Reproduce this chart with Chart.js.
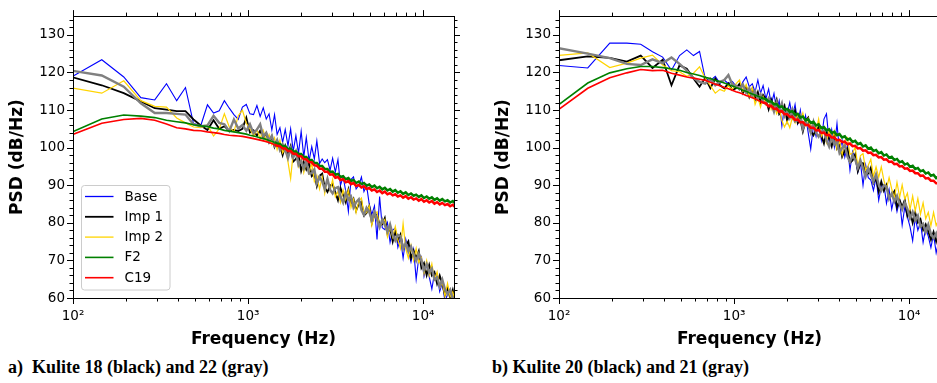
<!DOCTYPE html>
<html lang="en">
<head>
  <meta charset="UTF-8" />
  <title>PSD spectra, Kulite sensors</title>
  <script src="https://cdn.jsdelivr.net/npm/chart.js"></script>
  <style>
    body {
      margin: 0;
      width: 937px;
      height: 383px;
      overflow: hidden;
      background: #fff;
      position: relative;
    }
    .panel {
      position: absolute;
      top: 0;
    }
    .caption {
      position: absolute;
      top: 357px;
      font-family: "Liberation Serif", serif;
      font-weight: bold;
      font-size: 18px;
      line-height: 20px;
      white-space: pre;
      color: #000;
    }
  </style>
</head>
<body>
  <div class="panel" style="left:0px"><canvas id="chartA" width="470" height="352"></canvas></div>
  <div class="panel" style="left:486px"><canvas id="chartB" width="470" height="352"></canvas></div>
  <div class="caption" style="left:8px">a)  Kulite 18 (black) and 22 (gray)</div>
  <div class="caption" style="left:492px">b) Kulite 20 (black) and 21 (gray)</div>

  <script>
    // frequency bins (Hz), shared by every series
    const freq = [
      98, 146, 195, 244, 293, 342, 391, 439, 488, 537,
      586, 635, 684, 732, 781, 830, 879, 928, 977, 1025,
      1074, 1123, 1172, 1221, 1270, 1318, 1367, 1416, 1465,
      1520, 1575, 1630, 1690, 1750, 1810, 1875, 1940, 2010, 2080,
      2150, 2230, 2310, 2390, 2470, 2560, 2650, 2740, 2840, 2940,
      3040, 3150, 3260, 3370, 3490, 3610, 3740, 3870, 4000, 4140,
      4290, 4440, 4590, 4750, 4920, 5090, 5270, 5450, 5640, 5840,
      6040, 6250, 6470, 6700, 6930, 7170, 7420, 7680, 7950, 8230,
      8520, 8820, 9120, 9440, 9770, 10110, 10470, 10830, 11210, 11600,
      12010, 12430, 12860, 13310, 13780, 14260, 14760, 15280
    ];

    const decadeTicks = [100, 1000, 10000];
    const decadeLabels = ['10²', '10³', '10⁴'];
    const legendLabels = ['Base', 'Imp 1', 'Imp 2', 'F2', 'C19'];

    // ---- panel a: Kulite 18 (and 22 in gray) ----
    const baseA = [
      118.8, 123.4, 118.8, 113.3, 112.7, 117.0, 112.5, 116.0, 106.4, 105.9,
      111.4, 109.2, 109.8, 112.5, 110.5, 108.8, 107.5, 110.8, 111.5, 109.0,
      108.8, 111.2, 108.3, 110.6, 107.6, 109.0, 104.7, 108.8, 103.5,
      105.3, 101.4, 104.8, 100.5, 105.0, 99.0, 103.2, 98.5, 104.4, 97.5,
      102.7, 96.5, 100.3, 97.0, 101.8, 95.8, 97.0, 96.0, 96.8, 94.0,
      97.2, 93.5, 96.8, 90.0, 92.2, 88.5, 83.0, 91.5, 92.2, 89.0,
      90.0, 92.2, 88.3, 90.0, 85.0, 82.2, 84.5, 75.6, 87.0, 78.7,
      78.2, 80.1, 74.8, 78.1, 78.6, 73.5, 75.9, 70.6, 75.7, 72.7,
      69.6, 72.9, 65.0, 70.7, 71.1, 65.8, 69.0, 65.6, 62.4, 66.6,
      66.1, 61.7, 64.0, 59.2, 60.9, 61.9, 58.0, 57.9
    ];
    const imp1A = [
      118.8, 116.6, 114.5, 112.3, 110.5, 110.1, 109.7, 109.7, 107.5, 105.9,
      104.7, 107.3, 105.0, 105.7, 104.4, 104.7, 104.4, 105.0, 108.0, 104.0,
      104.6, 103.2, 104.5, 102.6, 103.8, 101.4, 102.9, 100.2, 101.8,
      100.7, 98.0, 100.5, 98.4, 100.4, 96.3, 97.0, 98.2, 93.8, 96.2,
      94.2, 96.0, 92.4, 93.1, 89.8, 92.5, 93.1, 89.4, 88.2, 89.9,
      90.3, 88.1, 86.0, 89.3, 87.4, 85.5, 88.8, 85.2, 86.4, 83.2,
      85.0, 85.6, 81.9, 82.6, 84.4, 79.9, 82.2, 82.2, 79.4, 79.6,
      81.3, 77.2, 78.6, 75.0, 77.7, 75.3, 76.9, 73.4, 74.0, 75.1,
      70.6, 72.6, 70.6, 72.5, 68.0, 69.3, 66.1, 68.8, 66.0, 66.9,
      63.8, 66.0, 63.8, 60.8, 62.7, 60.0, 62.2, 58.9
    ];
    const imp2A = [
      115.9, 114.5, 117.8, 112.5, 111.0, 110.8, 107.9, 106.6, 105.5, 105.3,
      106.0, 103.1, 105.0, 109.0, 105.5, 104.2, 108.5, 110.0, 106.5, 105.0,
      103.0, 104.8, 102.5, 104.6, 101.8, 103.5, 100.8, 102.6, 99.5,
      102.0, 98.6, 99.9, 96.2, 91.8, 98.7, 99.3, 95.0, 97.2, 93.4,
      96.3, 93.2, 95.9, 91.0, 92.6, 89.0, 92.2, 87.8, 91.7, 88.6,
      91.5, 86.9, 88.3, 85.4, 88.8, 86.2, 88.7, 84.1, 86.3, 82.7,
      85.8, 86.6, 82.3, 82.7, 84.5, 79.3, 82.4, 82.9, 78.7, 80.0,
      80.9, 76.3, 79.0, 76.2, 79.0, 75.5, 73.2, 79.8, 73.1, 70.6,
      74.0, 70.0, 73.2, 69.4, 70.8, 66.4, 69.9, 66.0, 69.1, 64.9,
      67.0, 62.7, 64.2, 60.5, 63.9, 60.3, 61.6, 59.0
    ];
    const f2A = [
      104.1, 107.6, 108.7, 108.4, 108.0, 107.3, 106.9, 106.6, 106.1, 105.8,
      105.6, 105.2, 105.0, 104.6, 104.4, 104.2, 104.0, 103.8, 103.6, 103.3,
      103.1, 102.9, 102.6, 102.4, 102.2, 101.9, 101.7, 101.4, 101.1,
      101.0, 100.3, 100.4, 99.6, 99.7, 99.0, 99.0, 98.3, 98.3, 97.5,
      97.5, 96.7, 96.7, 95.9, 95.9, 95.1, 95.1, 94.3, 94.3, 93.5,
      93.6, 92.8, 93.0, 92.2, 92.4, 91.6, 91.9, 91.1, 91.4, 90.6,
      91.0, 90.3, 90.6, 89.9, 90.2, 89.5, 89.9, 89.2, 89.6, 88.9,
      89.3, 88.6, 89.0, 88.3, 88.7, 88.0, 88.4, 87.7, 88.1, 87.4,
      87.8, 87.2, 87.5, 86.9, 87.3, 86.6, 87.0, 86.4, 86.8, 86.1,
      86.5, 85.9, 86.3, 85.7, 86.0, 85.4, 85.8, 85.1
    ];
    const c19A = [
      103.4, 106.5, 107.5, 107.8, 107.3, 106.3, 105.3, 105.0, 104.6, 104.5,
      104.2, 104.0, 103.8, 103.5, 103.3, 103.2, 103.1, 103.0, 102.8, 102.6,
      102.4, 102.2, 102.0, 101.8, 101.6, 101.4, 101.1, 100.8, 100.5,
      100.4, 99.8, 99.8, 99.1, 99.1, 98.4, 98.4, 97.7, 97.7, 96.9,
      96.9, 96.1, 96.1, 95.3, 95.2, 94.4, 94.4, 93.6, 93.6, 92.8,
      92.9, 92.0, 92.2, 91.4, 91.6, 90.8, 91.1, 90.3, 90.6, 89.8,
      90.1, 89.4, 89.7, 89.0, 89.3, 88.6, 88.9, 88.2, 88.6, 87.9,
      88.3, 87.6, 87.9, 87.3, 87.6, 87.0, 87.3, 86.7, 87.1, 86.4,
      86.8, 86.2, 86.5, 85.9, 86.3, 85.6, 86.0, 85.4, 85.8, 85.1,
      85.5, 84.9, 85.3, 84.7, 85.0, 84.4, 84.8, 84.1
    ];
    const k22A = [
      120.5, 119.2, 116.2, 111.8, 109.2, 109.2, 109.0, 108.8, 106.2, 105.7,
      105.9, 108.5, 106.6, 106.2, 104.4, 107.5, 105.1, 106.0, 104.5, 106.2,
      103.8, 104.8, 106.2, 103.0, 104.0, 101.8, 103.2, 100.6, 102.0,
      99.4, 100.9, 99.5, 97.2, 99.7, 97.4, 99.0, 95.4, 96.5, 94.5,
      96.4, 93.1, 93.2, 94.2, 90.5, 92.2, 91.0, 89.0, 91.7, 88.8,
      87.8, 89.2, 89.5, 87.0, 85.4, 88.0, 86.2, 87.0, 84.1, 85.5,
      86.3, 83.4, 82.1, 84.0, 82.9, 80.8, 82.9, 80.8, 78.8, 80.9,
      79.4, 77.6, 79.6, 76.9, 75.3, 76.8, 76.5, 73.1, 74.5, 72.4,
      73.7, 71.5, 69.9, 71.8, 69.9, 67.4, 69.0, 66.8, 67.8, 64.9,
      65.4, 63.1, 64.9, 62.4, 61.0, 62.2, 59.7, 60.1
    ];

    // ---- panel b: Kulite 20 (and 21 in gray) ----
    const baseB = [
      121.9, 121.2, 127.8, 127.8, 127.5, 125.5, 124.1, 120.6, 124.5, 126.0,
      124.5, 125.6, 118.4, 117.8, 119.0, 117.1, 118.0, 117.0, 117.6, 116.4,
      115.5, 117.5, 118.8, 116.2, 117.0, 114.8, 118.0, 114.5, 116.5,
      113.0, 115.6, 111.5, 114.4, 110.0, 112.5, 105.8, 111.0, 109.0, 112.0,
      108.0, 111.5, 106.5, 110.0, 104.8, 108.5, 104.0, 99.6, 106.0, 103.0,
      106.5, 102.0, 107.6, 109.0, 101.5, 104.8, 100.2, 106.4, 99.0, 102.0,
      97.5, 100.6, 94.0, 99.0, 97.2, 93.5, 96.0, 90.0, 95.4, 92.0,
      91.4, 88.6, 92.0, 86.0, 89.8, 90.2, 85.2, 88.8, 83.6, 87.0,
      83.0, 86.0, 79.4, 84.2, 81.6, 79.0, 75.2, 81.4, 78.0, 80.2,
      74.8, 78.6, 76.4, 73.4, 77.0, 72.0, 75.2, 70.8
    ];
    const imp1B = [
      123.2, 124.3, 123.9, 122.9, 124.5, 121.2, 123.4, 116.6, 121.9, 121.0,
      118.4, 116.2, 118.6, 115.8, 118.4, 116.6, 115.8, 117.1, 115.3, 115.8,
      117.0, 114.5, 116.2, 113.5, 115.6, 112.8, 114.8, 112.0, 114.0,
      112.9, 110.2, 112.8, 110.8, 112.8, 108.9, 109.8, 111.2, 107.1, 109.7,
      107.9, 109.9, 106.5, 107.4, 104.3, 107.2, 108.0, 104.4, 103.3, 105.0,
      105.4, 103.2, 101.1, 104.3, 102.3, 100.3, 103.5, 99.8, 100.9, 97.6,
      99.3, 99.8, 96.0, 96.6, 98.3, 93.7, 95.9, 95.9, 92.9, 93.1,
      94.7, 90.6, 91.9, 88.3, 91.0, 88.5, 90.1, 86.7, 87.3, 88.4,
      84.1, 86.1, 84.2, 86.1, 81.8, 83.1, 80.0, 82.7, 80.1, 81.0,
      78.1, 79.6, 77.7, 75.5, 77.6, 75.0, 77.5, 74.3
    ];
    const imp2B = [
      124.5, 125.2, 121.3, 122.5, 123.8, 124.6, 122.0, 120.5, 120.2, 119.0,
      119.8, 121.5, 118.5, 116.5, 114.5, 115.5, 115.0, 116.5, 115.5, 117.0,
      118.0, 115.0, 116.8, 113.6, 116.0, 111.5, 113.4, 110.8, 113.6,
      111.5, 113.0, 110.2, 111.8, 109.0, 110.4, 107.2, 105.5, 107.0, 105.3,
      108.0, 106.6, 109.0, 107.2, 109.2, 106.0, 107.8, 105.2, 106.8, 104.5,
      107.6, 103.0, 104.4, 101.4, 104.7, 102.0, 104.4, 99.7, 101.8, 98.1,
      101.9, 102.6, 98.2, 98.5, 100.2, 94.9, 97.9, 98.4, 94.0, 95.3,
      96.9, 92.3, 94.9, 92.1, 94.9, 91.3, 89.0, 92.0, 89.0, 86.5,
      90.8, 86.8, 90.1, 86.3, 87.9, 83.5, 87.1, 83.2, 86.5, 82.3,
      85.3, 81.1, 82.8, 79.2, 82.8, 79.3, 80.9, 78.4
    ];
    const f2B = [
      111.2, 117.2, 119.9, 121.0, 121.6, 121.6, 121.3, 121.0, 120.6, 120.0,
      119.6, 119.2, 118.7, 118.4, 117.9, 117.6, 117.2, 116.8, 116.4, 116.0,
      115.7, 115.3, 115.0, 114.6, 114.3, 114.0, 113.7, 113.4, 113.1,
      112.9, 112.3, 112.3, 111.5, 111.6, 110.8, 111.0, 110.1, 110.3, 109.5,
      109.7, 108.8, 109.0, 108.0, 108.3, 107.3, 107.5, 106.6, 106.9, 105.9,
      106.2, 105.2, 105.5, 104.6, 104.9, 103.9, 104.2, 103.3, 103.6, 102.7,
      103.0, 102.1, 102.4, 101.5, 101.8, 100.9, 101.2, 100.3, 100.6, 99.7,
      100.0, 99.1, 99.4, 98.5, 98.8, 97.9, 98.2, 97.3, 97.6, 96.7,
      97.0, 96.1, 96.4, 95.5, 95.8, 94.9, 95.2, 94.3, 94.6, 93.7,
      94.0, 93.1, 93.4, 92.5, 92.8, 91.9, 92.2, 91.3
    ];
    const c19B = [
      109.9, 115.8, 118.6, 119.9, 120.8, 120.5, 120.6, 119.8, 119.3, 118.8,
      118.5, 118.2, 117.9, 117.4, 116.9, 116.5, 116.0, 115.7, 115.3, 114.9,
      114.6, 114.3, 113.9, 113.6, 113.3, 113.0, 112.6, 112.3, 112.0,
      111.8, 111.0, 111.1, 110.3, 110.4, 109.6, 109.7, 108.9, 108.9, 108.2,
      108.2, 107.4, 107.5, 106.7, 106.8, 106.0, 106.0, 105.3, 105.3, 104.6,
      104.7, 103.9, 104.0, 103.3, 103.4, 102.7, 102.7, 102.0, 102.1, 101.5,
      101.6, 100.9, 101.1, 100.4, 100.5, 99.8, 99.9, 99.2, 99.3, 98.6,
      98.7, 98.0, 98.1, 97.4, 97.5, 96.8, 96.9, 96.2, 96.3, 95.6,
      95.7, 95.0, 95.1, 94.4, 94.5, 93.8, 93.9, 93.2, 93.2, 92.5,
      92.6, 91.8, 91.9, 91.2, 91.2, 90.5, 90.5, 89.8
    ];
    const k21B = [
      126.5, 125.0, 123.8, 122.3, 122.0, 123.5, 122.5, 124.0, 122.3, 120.5,
      118.5, 117.5, 117.0, 118.3, 116.6, 117.5, 118.0, 119.3, 116.8, 116.5,
      115.5, 116.8, 114.6, 115.8, 113.8, 115.0, 113.0, 114.2, 112.2,
      111.6, 113.1, 111.8, 109.6, 112.1, 110.0, 111.8, 108.4, 109.8, 108.0,
      110.1, 107.0, 107.3, 108.5, 105.0, 106.9, 105.9, 104.0, 106.8, 103.9,
      102.9, 104.3, 104.6, 102.0, 100.3, 102.8, 100.9, 101.6, 98.6, 99.9,
      100.6, 97.6, 96.2, 98.0, 96.8, 94.6, 96.6, 94.5, 92.3, 94.4,
      92.8, 91.0, 92.9, 90.2, 88.6, 90.0, 89.7, 86.4, 87.8, 85.7,
      87.2, 85.0, 83.5, 85.4, 83.7, 81.2, 82.9, 80.7, 81.9, 79.0,
      79.7, 77.5, 79.5, 77.1, 75.9, 77.2, 75.0, 75.5
    ];

    Chart.defaults.font.family = '"DejaVu Sans", sans-serif';
    Chart.defaults.color = '#000';

    function pts(vals) {
      return vals.map((v, i) => ({ x: freq[i], y: v }));
    }

    function line(label, vals, color, width, order, wideAbove) {
      const ds = {
        label: label,
        data: pts(vals),
        borderColor: color,
        backgroundColor: color,
        borderWidth: width,
        pointRadius: 0,
        tension: 0,
        fill: false,
        clip: 0,
        order: order
      };
      if (wideAbove) {
        // the dense high-frequency part reads as a thicker band
        ds.segment = { borderWidth: (c) => (c.p0.parsed.x > wideAbove ? width + 0.9 : width) };
      }
      return ds;
    }

    // spines, tick marks on all four sides and the framed legend
    const framePlugin = {
      id: 'frame',
      afterDraw(chart, args, opts) {
        const { ctx, chartArea: a } = chart;
        const x = chart.scales.x, y = chart.scales.y;
        ctx.save();
        ctx.strokeStyle = '#000';
        ctx.lineWidth = 1;
        ctx.beginPath();
        for (let v = 60; v <= 134; v += 2) {
          const py = Math.round(y.getPixelForValue(v)) + 0.5;
          const len = v % 10 === 0 ? 6 : 3.5;
          ctx.moveTo(a.left - len, py); ctx.lineTo(a.left, py);
          ctx.moveTo(a.right, py); ctx.lineTo(a.right + len, py);
        }
        for (const d of decadeTicks) {
          for (let m = 1; m < 10; m++) {
            const f = d * m;
            if (f < x.min || f > x.max) continue;
            const px = Math.round(x.getPixelForValue(f)) + 0.5;
            const len = m === 1 ? 6 : 3.5;
            ctx.moveTo(px, a.bottom); ctx.lineTo(px, a.bottom + len);
            ctx.moveTo(px, a.top - len); ctx.lineTo(px, a.top);
          }
        }
        ctx.stroke();
        ctx.strokeRect(Math.round(a.left) + 0.5, Math.round(a.top) + 0.5,
          Math.round(a.right - a.left), Math.round(a.bottom - a.top));

        if (opts.legend) {
          const bw = 88.5, bh = 104.5;
          const bx = a.left + 7.5, by = a.bottom - 8.5 - bh;
          ctx.fillStyle = 'rgba(255,255,255,0.85)';
          ctx.strokeStyle = '#cccccc';
          ctx.beginPath();
          ctx.roundRect(Math.round(bx) + 0.5, Math.round(by) + 0.5, bw, bh, 3);
          ctx.fill();
          ctx.stroke();
          ctx.font = '13.5px "DejaVu Sans"';
          ctx.textBaseline = 'middle';
          legendLabels.forEach((lab, i) => {
            const ds = chart.data.datasets.find(d => d.label === lab);
            const cy = by + 11.5 + i * 20.3;
            ctx.strokeStyle = ds.borderColor;
            ctx.lineWidth = Math.max(1.3, Math.min(ds.borderWidth, 1.8));
            ctx.beginPath();
            ctx.moveTo(bx + 4.5, cy);
            ctx.lineTo(bx + 33, cy);
            ctx.stroke();
            ctx.fillStyle = '#000';
            ctx.fillText(lab, bx + 44, cy + 0.5);
          });
        }
        ctx.restore();
      }
    };

    function makeChart(id, s, grayLabel, withLegend) {
      return new Chart(document.getElementById(id), {
        type: 'line',
        data: {
          datasets: [
            line('Base', s.base, '#0000ff', 1.1, 6),
            line('Imp 1', s.imp1, '#000000', 1.8, 5),
            line('Imp 2', s.imp2, '#ffd400', 1.2, 4),
            line('F2', s.f2, '#008000', 1.6, 2, 1400),
            line('C19', s.c19, '#ff0000', 1.6, 1, 1400),
            line(grayLabel, s.gray, '#808080', 2.4, 3)
          ]
        },
        options: {
          responsive: false,
          animation: false,
          devicePixelRatio: 1,
          layout: { padding: { top: 12, right: 16, left: 0, bottom: 0 } },
          plugins: {
            legend: { display: false },
            tooltip: { enabled: false },
            frame: { legend: withLegend }
          },
          scales: {
            x: {
              type: 'logarithmic',
              min: 100,
              max: 15000,
              grid: { display: false, drawTicks: false },
              border: { display: false },
              afterFit: (sc) => { sc.height = 54; },
              ticks: {
                autoSkip: false,
                maxRotation: 0,
                padding: 10,
                font: { size: 13.5 },
                callback: (v) => {
                  const i = decadeTicks.findIndex(d => Math.abs(d - v) < 1e-6 * d);
                  return i >= 0 ? decadeLabels[i] : '';
                }
              },
              title: {
                display: true,
                text: 'Frequency (Hz)',
                font: { size: 17, weight: 'bold' },
                padding: { top: 0, bottom: 2 }
              }
            },
            y: {
              min: 60,
              max: 135,
              grid: { display: false, drawTicks: false },
              border: { display: false },
              afterFit: (sc) => { sc.width = 73; },
              ticks: {
                stepSize: 10,
                includeBounds: false,
                padding: 8,
                font: { size: 13.5 }
              },
              title: {
                display: true,
                text: 'PSD (dB/Hz)',
                font: { size: 17, weight: 'bold' },
                padding: { top: 7, bottom: 0 }
              }
            }
          }
        },
        plugins: [framePlugin]
      });
    }

    makeChart('chartA',
      { base: baseA, imp1: imp1A, imp2: imp2A, f2: f2A, c19: c19A, gray: k22A },
      'Kulite 22', true);
    makeChart('chartB',
      { base: baseB, imp1: imp1B, imp2: imp2B, f2: f2B, c19: c19B, gray: k21B },
      'Kulite 21', false);
  </script>
</body>
</html>
